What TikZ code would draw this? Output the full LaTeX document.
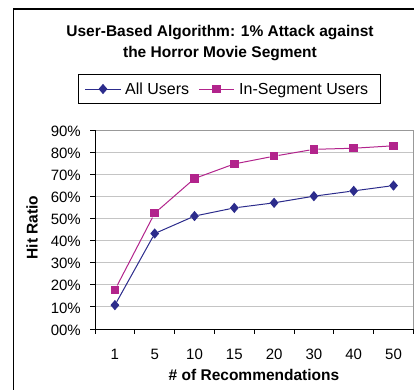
\documentclass[tikz,border=0pt]{standalone}
\usepackage{fontspec}
\setmainfont{Liberation Sans}
\usetikzlibrary{shapes.geometric}

\definecolor{allblue}{RGB}{44, 44, 140}
\definecolor{segpink}{RGB}{178, 36, 140}
\definecolor{gridgray}{RGB}{196, 196, 196}

\begin{document}
\begin{tikzpicture}[x = 1pt, y = -1pt,
	allmark/.style = {diamond, fill = allblue, inner sep = 0pt, minimum width = 9pt, minimum height = 10.5pt},
	segmark/.style = {rectangle, fill = segpink, inner sep = 0pt, minimum size = 8.5pt},
	ticklabel/.style = {font = \fontsize{15}{18}\selectfont, inner sep = 0pt},
	keylabel/.style = {font = \fontsize{16}{19}\selectfont, inner sep = 0pt, anchor = base west},
	axistitle/.style = {font = \fontsize{15.5}{18}\selectfont\bfseries, inner sep = 0pt, anchor = base}]

	\useasboundingbox (0, 0) rectangle (414, 389);
	\clip (0, 0) rectangle (414, 389);

	% Frame

	\draw [line width = 1.3pt] (13.5, 400) -- (13.5, 9) -- (430, 9);

	% Title

	\node [font = \fontsize{15.5}{21}\selectfont\bfseries, align = center, inner sep = 0pt] (title) at (220, 43)
		{User-Based Algorithm: 1\% Attack against\\the Horror Movie Segment};

	% Legend

	\node [draw, line width = 0.8pt, minimum width = 302pt, minimum height = 29.5pt] (legend) at (229, 88.75) {};

	\coordinate (allA) at (85, 89);
	\coordinate (allB) at (121, 89);
	\draw [allblue, line width = 1pt] (allA) -- (allB);
	\node [allmark] (allkey) at (103, 89) {};
	\node [keylabel] (alltext) at (125, 94) {All Users};

	\coordinate (segA) at (199, 89);
	\coordinate (segB) at (234, 89);
	\draw [segpink, line width = 1pt] (segA) -- (segB);
	\node [segmark] (segkey) at (216.5, 89) {};
	\node [keylabel] (segtext) at (239, 94) {In-Segment Users};

	% Grid

	\foreach \p in {1, ..., 8}
		\draw [gridgray, line width = 1pt] (95, {329 - 22.1*\p}) -- (413.3, {329 - 22.1*\p});
	\draw [gray!80, line width = 1pt] (95, 130.1) -- (413.3, 130.1) -- (413.3, 329);

	% Axes

	\draw [line width = 1pt] (95, 130.1) -- (95, 329) -- (413.3, 329);

	\foreach \p in {0, ..., 9} {
		\draw [line width = 1pt] (90, {329 - 22.1*\p}) -- (95, {329 - 22.1*\p});
		\node [ticklabel, anchor = east] (ylab\p) at (81, {330 - 22.1*\p}) {\p0\%};
	}

	\foreach \k in {0, ..., 8}
		\draw [line width = 1pt] ({95 + 39.8*\k}, 329) -- ({95 + 39.8*\k}, 333.5);

	\foreach \r [count = \i] in {1, 5, 10, 15, 20, 30, 40, 50}
		\node [ticklabel] (xlab\i) at ({95 + 39.8*(\i - 0.5)}, 354) {\r};

	% Axis titles

	\node [axistitle] (xtitle) at (254, 380.5) {\# of Recommendations};
	\node [axistitle, rotate = 90] (ytitle) at (37.5, 227.5) {Hit Ratio};

	% All Users

	\foreach \v [count = \i] in {10.8, 43.2, 51.1, 54.8, 57.1, 60.1, 62.5, 64.9}
		\node [allmark] (all\i) at ({95 + 39.8*(\i - 0.5)}, {329 - 2.21*\v}) {};
	\draw [allblue, line width = 1pt] (all1) -- (all2) -- (all3) -- (all4) -- (all5) -- (all6) -- (all7) -- (all8);

	% In-Segment Users

	\foreach \v [count = \i] in {17.7, 52.4, 68.1, 74.7, 78.2, 81.3, 81.8, 82.9}
		\node [segmark] (seg\i) at ({95 + 39.8*(\i - 0.5)}, {329 - 2.21*\v}) {};
	\draw [segpink, line width = 1pt] (seg1) -- (seg2) -- (seg3) -- (seg4) -- (seg5) -- (seg6) -- (seg7) -- (seg8);

\end{tikzpicture}
\end{document}
